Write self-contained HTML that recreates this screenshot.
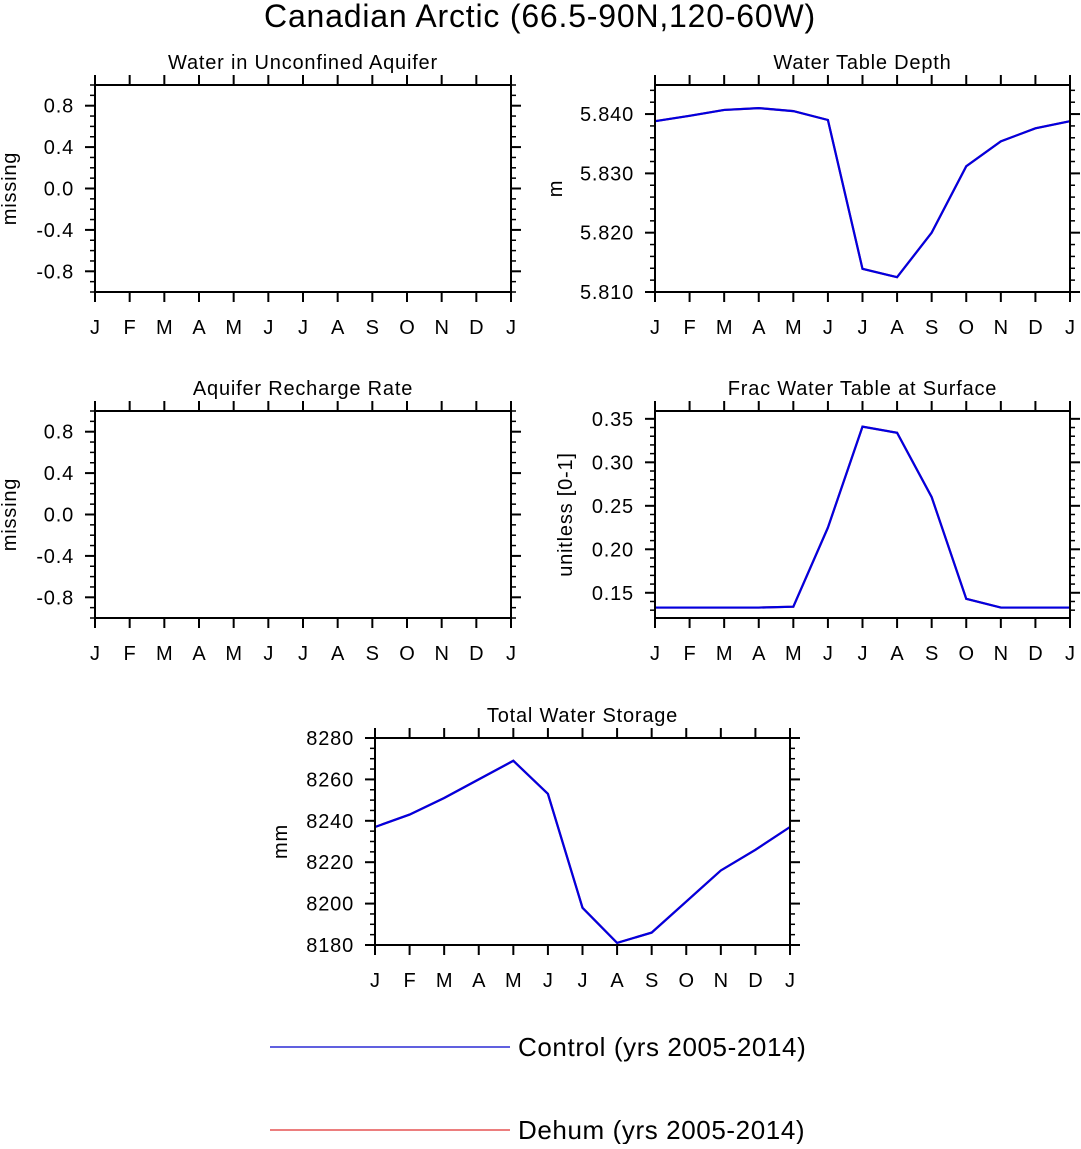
<!DOCTYPE html>
<html><head><meta charset="utf-8"><style>
body{margin:0;background:#fff;width:1081px;height:1144px;overflow:hidden}
svg{font-family:"Liberation Sans",sans-serif}
</style></head><body>
<svg id="c" width="1081" height="1144" xmlns="http://www.w3.org/2000/svg">
<text x="540" y="27" font-size="32" letter-spacing="0.8" text-anchor="middle">Canadian Arctic (66.5-90N,120-60W)</text>
<g>
<line x1="270" y1="1047" x2="510" y2="1047" stroke="#0000cc" stroke-width="1.2"/>
<text x="518" y="1056" font-size="26" letter-spacing="0.6">Control (yrs 2005-2014)</text>
<line x1="270" y1="1130" x2="510" y2="1130" stroke="#e03030" stroke-width="1.2"/>
<text x="518" y="1139" font-size="26" letter-spacing="0.6">Dehum (yrs 2005-2014)</text>
</g>
</svg>
<script>
const months = ["J","F","M","A","M","J","J","A","S","O","N","D","J"];
const depthControl = [5.8388,5.8397,5.8407,5.8410,5.8405,5.8390,5.8139,5.8125,5.8200,5.8312,5.8354,5.8376,5.8388];
const depthDehum = [5.8388,5.8397,5.8407,5.8410,5.8405,5.8390,5.8139,5.8125,5.8200,5.8312,5.8354,5.8376,5.8388];
const fracControl = [0.133,0.133,0.133,0.133,0.134,0.225,0.341,0.334,0.260,0.143,0.133,0.133,0.133];
const fracDehum = [0.133,0.133,0.133,0.133,0.134,0.225,0.341,0.334,0.260,0.143,0.133,0.133,0.133];
const twsControl = [8237,8243,8251,8260,8269,8253,8198,8181,8186,8201,8216,8226,8237];
const twsDehum = [8237,8243,8251,8260,8269,8253,8198,8181,8186,8201,8216,8226,8237];
const missTicks = ["0.8","0.4","0.0","-0.4","-0.8"];
const depthTicks = ["5.840","5.830","5.820","5.810"];
const fracTicks = ["0.35","0.30","0.25","0.20","0.15"];
const twsTicks = ["8280","8260","8240","8220","8200","8180"];

const svg=document.getElementById('c');
const NS="http://www.w3.org/2000/svg";
function mk(t,a,p){const e=document.createElementNS(NS,t);for(const k in a)e.setAttribute(k,a[k]);(p||svg).appendChild(e);return e;}

function panel(o){
  const g=mk('g',{});
  
  
  const {x0,y0,w,h,ymin,ymax}=o;
  const X=i=>x0+i*w/12, Y=v=>y0+h-(v-ymin)/(ymax-ymin)*h;
  const t=mk('text',{x:x0+w/2,y:y0-16,'font-size':20,'letter-spacing':0.8,'text-anchor':'middle'},g);t.textContent=o.title;
  
  
  months.forEach((m,i)=>{
    mk('line',{x1:X(i),x2:X(i),y1:y0+h,y2:y0+h+10,stroke:'#000','stroke-width':2},g);
    mk('line',{x1:X(i),x2:X(i),y1:y0,y2:y0-10,stroke:'#000','stroke-width':2},g);
    const l=mk('text',{x:X(i),y:y0+h+42,'font-size':20,'text-anchor':'middle'},g);l.textContent=m;
    
    
  });
  const nmin=Math.round((ymax-ymin)/o.minor);
  for(let k=0;k<=nmin+1;k++){
    const v=o.minorStart+k*o.minor; if(v<ymin-1e-9||v>ymax+1e-9)continue;
    mk('line',{x1:x0,x2:x0-5,y1:Y(v),y2:Y(v),stroke:'#000','stroke-width':1.5},g);
    mk('line',{x1:x0+w,x2:x0+w+5,y1:Y(v),y2:Y(v),stroke:'#000','stroke-width':1.5},g);
  }
  o.ticks.forEach(s=>{
    const v=parseFloat(s);
    mk('line',{x1:x0,x2:x0-10,y1:Y(v),y2:Y(v),stroke:'#000','stroke-width':2},g);
    mk('line',{x1:x0+w,x2:x0+w+10,y1:Y(v),y2:Y(v),stroke:'#000','stroke-width':2},g);
    const l=mk('text',{x:x0-21,y:Y(v)+7,'font-size':20,'letter-spacing':0.8,'text-anchor':'end'},g);l.textContent=s;
    
    
  });
  const yt=mk('text',{x:0,y:0,'font-size':20,'letter-spacing':0.8,'text-anchor':'middle',transform:`translate(${o.ytx},${y0+h/2}) rotate(-90)`},g);yt.textContent=o.ylab;
  
  
  [[o.d2,'#e03030'],[o.d1,'#0000e0']].forEach(([d,c],si)=>{
    if(!d)return;
    const p=mk('polyline',{points:d.map((v,i)=>X(i)+','+Y(v)).join(' '),fill:'none',stroke:c,'stroke-width':2.2},g);
    
    
  });
  mk('rect',{x:x0,y:y0,width:w,height:h,fill:'none',stroke:'#000','stroke-width':2},g);
}
panel({name:'panel-unconfined-aquifer',x0:95,y0:85,w:416,h:207,ymin:-1,ymax:1,ticks:missTicks,minor:0.1,minorStart:-1,title:'Water in Unconfined Aquifer',ylab:'missing',ytx:16});
panel({name:'panel-water-table-depth',x0:655,y0:85,w:415,h:207,ymin:5.810,ymax:5.8449,ticks:depthTicks,minor:0.002,minorStart:5.810,title:'Water Table Depth',ylab:'m',ytx:562,d1:depthControl,d2:depthDehum});
panel({name:'panel-aquifer-recharge',x0:95,y0:411,w:416,h:207,ymin:-1,ymax:1,ticks:missTicks,minor:0.1,minorStart:-1,title:'Aquifer Recharge Rate',ylab:'missing',ytx:16});
panel({name:'panel-frac-water-table',x0:655,y0:411,w:415,h:207,ymin:0.121,ymax:0.359,ticks:fracTicks,minor:0.01,minorStart:0.13,title:'Frac Water Table at Surface',ylab:'unitless [0-1]',ytx:572,d1:fracControl,d2:fracDehum});
panel({name:'panel-total-water-storage',x0:375,y0:738,w:415,h:207,ymin:8180,ymax:8280,ticks:twsTicks,minor:5,minorStart:8180,title:'Total Water Storage',ylab:'mm',ytx:287,d1:twsControl,d2:twsDehum});
</script>
</body></html>
